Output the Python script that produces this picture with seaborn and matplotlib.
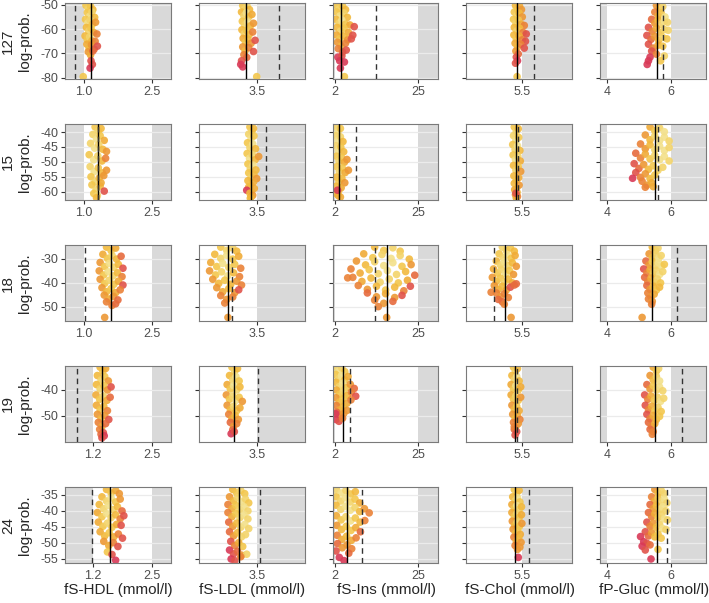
import pandas as pd
import seaborn as sns
import matplotlib
matplotlib.use("Agg")
import matplotlib.pyplot as plt
from matplotlib.colors import LinearSegmentedColormap

# rows = model id, columns = lab measure
rows = ["127", "15", "18", "19", "24"]
cols = ["hdl", "ldl", "ins", "chol", "gluc"]
col_titles = ["fS-HDL (mmol/l)", "fS-LDL (mmol/l)", "fS-Ins (mmol/l)",
              "fS-Chol (mmol/l)", "fP-Gluc (mmol/l)"]

# reference ranges (None = no bound), one value per row
hdl_low = [1.0, 1.0, 1.0, 1.2, 1.2]
hdl_high = [2.5, 2.5, 2.5, 2.5, 2.5]
ldl_low = [None, None, None, None, None]
ldl_high = [3.5, 3.5, 3.5, 3.5, 3.5]
ins_low = [2, 2, 2, 2, 2]
ins_high = [25, 25, 25, 25, 25]
chol_low = [None, None, None, None, None]
chol_high = [5.5, 5.5, 5.5, 5.5, 5.5]
gluc_low = [4, 4, 4, 4, 4]
gluc_high = [6, 6, 6, 6, 6]

# solid / dashed vertical markers, one per row
hdl_solid = [1.17, 1.31, 1.59, 1.41, 1.57]
hdl_dashed = [0.80, 1.31, 1.02, 0.85, 1.19]
ldl_solid = [3.22, 3.35, 2.77, 2.93, 3.05]
ldl_dashed = [4.05, 3.73, 2.88, 3.53, 3.59]
ins_solid = [3.85, 3.1, 16.3, 4.2, 5.4]
ins_dashed = [13.4, 7.8, 13.1, 6.2, 9.6]
chol_solid = [5.37, 5.34, 5.07, 5.32, 5.33]
chol_dashed = [5.8, 5.4, 4.78, 5.37, 5.67]
gluc_solid = [5.56, 5.49, 5.42, 5.49, 5.58]
gluc_dashed = [5.75, 5.59, 6.19, 6.35, 5.88]

# ---- row 127 ----
hdl_127_x = [1.05,1.10,1.15,1.20,1.08,1.13,1.18,1.24,1.04,1.09,1.14,1.19,1.26,1.06,1.11,1.16,1.22,1.29,1.03,1.08,1.13,1.18,1.25,1.07,1.12,1.17,1.23,1.30,1.10,1.15,1.20,1.16,1.19,1.14,0.99]
hdl_127_y = [-50.3,-51.8,-50.6,-52.0,-53.2,-54.8,-53.0,-55.2,-56.0,-57.6,-56.3,-58.0,-57.2,-59.3,-60.9,-59.6,-61.4,-62.0,-62.8,-64.4,-63.1,-64.8,-65.0,-66.2,-67.8,-66.5,-68.2,-67.0,-69.3,-70.6,-69.0,-73,-74.5,-76,-79.5]
hdl_127_c = [2,1,2,3,2,0,1,3,2,0,1,2,5,3,1,2,4,6,3,2,1,3,6,4,3,5,7,8,5,4,7,8,8,9,2]
ldl_127_x = [3.15,3.2,3.26,3.32,3.12,3.18,3.24,3.3,3.38,3.14,3.2,3.27,3.34,3.42,3.13,3.19,3.25,3.31,3.4,3.16,3.22,3.28,3.36,3.46,3.15,3.21,3.3,3.42,3.18,3.25,3.12,3.1,3.15,3.5]
ldl_127_y = [-50.3,-51.8,-50.6,-52.0,-53.0,-54.6,-53.3,-55.0,-54.0,-56.8,-58.3,-57.1,-58.7,-57.6,-60.3,-61.9,-60.6,-62.3,-61.2,-63.8,-65.4,-64.1,-65.8,-64.6,-67.3,-68.9,-67.6,-69.2,-70.5,-71.6,-73,-74.5,-75.5,-79.5]
ldl_127_c = [2,1,1,3,3,1,0,2,4,2,1,0,3,5,3,1,2,3,6,4,2,3,5,8,5,3,6,8,6,7,8,9,9,2]
ins_127_x = [2.5,3.3,4.2,5.0,2.6,3.5,4.5,5.5,2.4,3.2,4.0,5.0,6.2,2.7,3.6,4.6,5.8,7.4,2.5,3.4,4.4,5.6,7.0,2.8,3.8,5.0,6.6,3.0,4.2,5.2,2.9,4.0,3.4,4.7,4.7,3.6]
ins_127_y = [-50.3,-51.8,-50.6,-52.0,-53.0,-54.6,-53.4,-55.2,-56.0,-57.6,-56.3,-58.0,-58.3,-59.3,-60.9,-59.6,-61.4,-59.0,-62.4,-64.0,-62.8,-64.4,-62.5,-65.4,-67.0,-65.8,-64.0,-68.0,-69.4,-68.6,-71.5,-71,-73,-73.5,-79.5,-76]
ins_127_c = [2,1,2,3,2,0,1,3,3,1,0,2,4,3,1,2,4,8,4,2,3,5,8,5,3,6,8,6,7,8,9,8,9,9,2,9]
chol_127_x = [5.33,5.38,5.43,5.48,5.3,5.36,5.42,5.5,5.28,5.34,5.4,5.47,5.55,5.3,5.36,5.43,5.52,5.6,5.29,5.35,5.42,5.5,5.58,5.32,5.38,5.46,5.55,5.34,5.4,5.35,5.38,5.37,5.33]
chol_127_y = [-50.3,-51.8,-50.6,-52.0,-53.0,-54.6,-53.4,-55.0,-56.0,-57.6,-56.3,-58.0,-58.5,-59.3,-60.9,-59.6,-61.4,-62.0,-62.4,-64.0,-62.8,-64.4,-65.0,-65.8,-67.4,-66.2,-67.8,-69.0,-70.2,-71.5,-73,-79.5,-74]
chol_127_c = [3,2,4,5,2,1,3,5,2,1,2,4,6,3,1,3,6,8,3,2,4,6,8,4,3,6,8,5,7,8,9,2,8]
gluc_127_x = [5.55,5.65,5.75,5.5,5.6,5.7,5.82,5.4,5.5,5.6,5.7,5.8,5.9,5.3,5.42,5.55,5.68,5.8,5.92,5.25,5.38,5.5,5.62,5.75,5.88,5.3,5.45,5.6,5.75,5.4,5.55,5.35,5.3,5.26,5.8,5.68]
gluc_127_y = [-50.3,-51.6,-50.8,-53.0,-54.6,-53.4,-55.0,-56.0,-57.6,-56.3,-58.0,-56.8,-57.2,-59.3,-60.9,-59.6,-61.4,-60.2,-60.5,-62.6,-64.2,-63.0,-64.6,-63.4,-64.0,-66.2,-67.8,-66.6,-67.0,-69.0,-70.3,-71.5,-73,-74.5,-71,-73]
gluc_127_c = [5,3,1,6,4,2,0,7,5,3,1,0,1,8,6,4,2,1,1,8,7,5,3,1,2,8,6,4,2,8,6,9,9,9,1,2]

# ---- row 15 ----
hdl_15_x = [1.25,1.32,1.38,1.2,1.28,1.36,1.45,1.15,1.24,1.33,1.42,1.5,1.12,1.22,1.31,1.4,1.48,1.14,1.23,1.32,1.41,1.5,1.16,1.25,1.34,1.44,1.18,1.27,1.36,1.45,1.22,1.3,1.38,1.28]
hdl_15_y = [-38.3,-39.6,-38.8,-40.8,-42.4,-41.2,-42.8,-43.8,-45.4,-44.2,-45.8,-46.5,-47.6,-49.3,-48.0,-49.7,-48.8,-51.6,-53.3,-52.0,-53.7,-52.8,-55.0,-56.7,-55.4,-54.6,-57.7,-59.4,-58.1,-59.8,-60.6,-61.2,-57.0,-62.0]
hdl_15_c = [2,1,3,1,0,2,4,1,0,1,3,5,2,0,1,3,6,1,0,2,3,5,2,1,3,5,2,1,3,8,2,1,4,3]
ldl_15_x = [3.33,3.38,3.42,3.3,3.36,3.43,3.27,3.33,3.4,3.47,3.26,3.32,3.39,3.46,3.55,3.28,3.34,3.41,3.48,3.3,3.36,3.43,3.5,3.28,3.35,3.42,3.3,3.37,3.44,3.25,3.33,3.4,3.36,3.34]
ldl_15_y = [-38.3,-39.6,-38.8,-40.7,-42.2,-41.3,-43.6,-45.2,-44.0,-45.6,-47.2,-48.8,-47.6,-49.3,-48.2,-50.7,-52.3,-51.1,-52.7,-53.7,-55.3,-54.1,-55.6,-56.3,-57.8,-56.8,-58.4,-59.8,-58.9,-59.5,-60.5,-61.2,-61.7,-62.2]
ldl_15_c = [2,1,3,1,0,2,2,1,0,3,2,0,1,3,5,2,1,0,3,2,1,3,5,3,2,4,3,2,4,9,3,5,4,3]
ins_15_x = [2.4,3.0,3.6,2.3,2.9,3.6,4.3,2.4,3.0,3.7,4.5,2.5,3.2,3.9,4.7,5.4,2.6,3.3,4.1,4.9,5.8,2.5,3.2,4.0,4.8,2.4,3.1,3.8,2.5,3.0,3.6,2.8]
ins_15_y = [-38.3,-39.7,-38.8,-41.2,-42.8,-41.6,-43.2,-44.6,-46.2,-45.0,-46.6,-48.1,-49.7,-48.5,-50.1,-49.2,-51.6,-53.2,-52.0,-53.6,-52.8,-55.1,-56.7,-55.5,-57.0,-58.2,-59.8,-58.7,-60.6,-61.3,-61.8,-59.5]
ins_15_c = [1,0,2,1,0,1,3,1,0,2,3,2,1,2,4,5,2,1,2,4,5,3,2,3,5,3,2,4,3,4,4,9]
chol_15_x = [5.3,5.35,5.4,5.28,5.34,5.41,5.26,5.32,5.38,5.44,5.27,5.33,5.39,5.45,5.28,5.34,5.4,5.46,5.29,5.35,5.41,5.3,5.36,5.42,5.31,5.37,5.33,5.38,5.35,5.34]
chol_15_y = [-38.3,-39.8,-38.9,-41.2,-42.8,-41.8,-44.2,-45.8,-44.6,-46.2,-47.7,-49.3,-48.1,-49.7,-51.2,-52.8,-51.6,-53.2,-54.7,-56.2,-55.3,-57.2,-58.7,-57.8,-59.3,-60.2,-61.0,-61.6,-62.1,-60.5]
chol_15_c = [2,1,3,1,0,2,2,1,0,3,2,0,1,4,3,1,2,5,3,2,4,3,2,5,4,3,5,6,4,8]
gluc_15_x = [5.35,5.5,5.65,5.8,5.2,5.35,5.5,5.65,5.8,5.95,5.05,5.2,5.35,5.5,5.65,5.8,5.95,4.9,5.05,5.2,5.35,5.5,5.65,5.8,5.95,4.85,5.0,5.15,5.3,5.45,5.6,5.75,4.9,5.05,5.2,5.35,5.5,5.1,5.25,5.4,4.8,5.2,5.45]
gluc_15_y = [-38.3,-39.6,-38.6,-39.9,-41.0,-42.6,-41.3,-42.9,-41.7,-43.0,-44.0,-45.6,-44.3,-45.9,-44.7,-46.2,-45.2,-47.1,-48.7,-47.4,-49.0,-47.8,-49.3,-48.2,-49.7,-50.6,-52.2,-50.9,-52.5,-51.3,-52.8,-51.8,-53.6,-55.2,-54.0,-55.6,-54.4,-56.5,-57.8,-57.0,-55.5,-58.5,-58.3]
gluc_15_c = [4,2,1,0,5,3,1,0,0,1,6,5,3,1,0,0,1,7,6,4,2,1,0,0,1,8,7,5,3,2,1,1,8,6,5,3,2,6,5,4,9,6,4]

# ---- row 18 ----
hdl_18_x = [1.5,1.6,1.7,1.42,1.52,1.62,1.72,1.82,1.36,1.46,1.56,1.66,1.76,1.86,1.34,1.44,1.54,1.64,1.74,1.84,1.36,1.46,1.56,1.66,1.76,1.86,1.4,1.5,1.6,1.7,1.8,1.45,1.55,1.65,1.75,1.5,1.62,1.46,1.7]
hdl_18_y = [-25.2,-26.6,-25.6,-28.2,-29.9,-28.6,-30.2,-29.0,-31.6,-33.3,-32.0,-33.6,-32.4,-34.0,-35.1,-36.8,-35.5,-37.2,-35.9,-37.5,-38.6,-40.3,-39.0,-40.7,-39.4,-41.0,-42.1,-43.8,-42.5,-44.2,-43.0,-45.2,-46.8,-45.7,-47.2,-48.0,-49.5,-54.5,-48.8]
hdl_18_c = [3,2,4,4,2,1,3,7,5,2,0,1,3,8,5,2,0,1,3,6,5,2,1,2,4,8,5,3,2,4,6,5,4,5,7,6,6,5,7]
ldl_18_x = [2.6,2.75,2.9,3.0,2.45,2.6,2.75,2.9,3.05,2.35,2.5,2.65,2.8,2.95,3.1,2.32,2.47,2.62,2.77,2.92,3.07,2.4,2.55,2.7,2.85,3.0,3.12,2.5,2.65,2.8,2.95,3.05,2.6,2.75,2.9,2.7,2.78]
ldl_18_y = [-25.2,-26.6,-25.5,-26.9,-28.2,-29.9,-28.6,-30.2,-29.0,-31.6,-33.3,-32.0,-33.6,-32.4,-34.0,-35.1,-36.8,-35.5,-37.2,-35.9,-37.5,-38.6,-40.3,-39.0,-40.7,-39.4,-41.0,-42.1,-43.8,-42.5,-44.2,-43.0,-45.4,-47.0,-46.0,-48.5,-54.5]
ldl_18_c = [2,1,1,3,3,1,0,2,4,4,2,0,1,2,6,5,2,1,0,3,6,5,3,2,3,5,6,5,4,3,5,8,6,5,6,6,5]
ins_18_x = [13,15.5,18,20,10,12.5,15,17.5,20,22.5,8,10.5,13,15.5,18,20.5,23,6.5,9,11.5,14,16.5,19,21.5,24,7,9.5,12,14.5,17,19.5,22,8.5,11,13.5,16,18.5,21,11,13.5,16,18.5,20.5,13,15.5,18,5.6,16.3,14,22.8]
ins_18_y = [-25.2,-26.6,-25.5,-26.9,-28.0,-29.6,-28.3,-29.9,-28.7,-30.2,-31.0,-32.6,-31.3,-32.9,-31.7,-33.2,-32.5,-34.3,-36.0,-34.6,-36.3,-35.0,-36.6,-35.4,-36.9,-37.8,-39.5,-38.1,-39.8,-38.5,-40.1,-39.0,-41.2,-42.8,-41.5,-43.1,-41.9,-43.4,-44.3,-45.9,-44.6,-46.2,-45.3,-47.3,-48.6,-47.8,-38,-54.5,-50,-41.5]
ins_18_c = [3,2,1,2,4,2,1,0,1,3,5,3,1,0,0,2,5,6,4,2,1,0,1,3,7,6,4,3,1,1,2,4,6,5,3,2,3,6,7,5,4,5,8,6,5,7,6,5,6,8]
chol_18_x = [5.0,5.1,5.2,5.3,4.92,5.02,5.12,5.22,5.32,4.85,4.95,5.05,5.15,5.25,5.35,4.78,4.88,4.98,5.08,5.18,5.28,4.75,4.85,4.95,5.05,5.15,5.25,5.35,4.8,4.9,5.0,5.1,5.2,5.3,4.85,4.95,5.05,5.15,4.9,5.0,4.72,5.22,5.05]
chol_18_y = [-25.2,-26.6,-25.5,-26.9,-28.0,-29.6,-28.3,-29.9,-28.7,-31.0,-32.6,-31.3,-32.9,-31.7,-33.2,-34.3,-36.0,-34.6,-36.3,-35.0,-36.6,-37.8,-39.5,-38.1,-39.8,-38.5,-40.1,-40.5,-41.2,-42.8,-41.5,-43.1,-41.9,-41.0,-44.3,-45.9,-44.6,-46.2,-47.0,-48.0,-44,-54.5,-49]
chol_18_c = [1,1,2,3,2,1,0,2,4,3,1,0,1,3,5,4,2,1,0,2,5,5,3,2,1,3,4,7,5,4,3,4,8,7,6,5,6,6,7,7,6,5,6]
gluc_18_x = [5.42,5.52,5.6,5.32,5.42,5.52,5.62,5.7,5.22,5.32,5.42,5.52,5.62,5.72,5.8,5.15,5.25,5.35,5.45,5.55,5.65,5.75,5.18,5.28,5.38,5.48,5.58,5.68,5.25,5.35,5.45,5.55,5.65,5.28,5.38,5.48,5.3,5.42,5.1,5.4]
gluc_18_y = [-25.2,-26.6,-25.6,-28.0,-29.6,-28.3,-29.9,-28.7,-31.0,-32.6,-31.3,-32.9,-31.7,-33.2,-32.4,-34.3,-36.0,-34.6,-36.3,-35.0,-36.6,-35.4,-37.8,-39.5,-38.1,-39.8,-38.5,-40.1,-41.2,-42.8,-41.5,-43.1,-41.9,-44.3,-45.9,-44.8,-46.8,-47.8,-54.5,-49]
gluc_18_c = [3,2,1,5,3,1,0,1,7,5,2,1,0,0,2,8,6,4,2,1,0,1,7,6,4,2,1,2,7,5,3,2,3,6,5,4,6,5,5,6]

# ---- row 19 ----
hdl_19_x = [1.36,1.42,1.48,1.3,1.38,1.46,1.54,1.28,1.36,1.44,1.52,1.6,1.27,1.35,1.43,1.51,1.58,1.28,1.36,1.44,1.52,1.3,1.38,1.46,1.55,1.32,1.4,1.48,1.35,1.43,1.38,1.45,1.4]
hdl_19_y = [-31.3,-32.8,-31.8,-34.5,-36.2,-34.9,-36.6,-38.0,-39.7,-38.4,-40.1,-38.9,-42.0,-43.7,-42.4,-44.1,-42.9,-46.0,-47.7,-46.4,-48.1,-49.5,-51.2,-49.9,-51.5,-52.6,-54.2,-53.1,-55.3,-56.6,-57.2,-57.8,-58.6]
hdl_19_c = [3,2,4,3,1,2,5,3,1,2,5,8,4,2,1,4,7,4,2,3,6,5,3,5,8,6,4,7,6,8,7,9,8]
ldl_19_x = [2.88,2.95,3.02,2.82,2.9,2.98,3.06,2.76,2.84,2.92,3.0,3.08,2.74,2.82,2.9,2.98,3.06,3.14,2.76,2.84,2.92,3.0,3.08,2.8,2.88,2.96,3.04,2.84,2.92,3.0,2.9,2.86,2.94]
ldl_19_y = [-31.3,-32.8,-31.8,-34.5,-36.2,-34.9,-36.6,-38.0,-39.7,-38.4,-40.1,-38.9,-42.0,-43.7,-42.4,-44.1,-42.9,-44.5,-46.0,-47.7,-46.4,-48.1,-47.0,-49.5,-51.2,-49.9,-51.5,-52.6,-54.2,-53.1,-55.5,-57.0,-56.2]
ldl_19_c = [2,1,3,3,1,0,2,4,2,0,1,3,5,2,1,0,2,5,5,3,1,2,4,6,4,3,5,7,5,6,7,9,8]
ins_19_x = [2.4,3.2,4.0,4.8,2.3,3.1,3.9,4.8,5.7,2.4,3.3,4.2,5.2,6.3,7.4,2.5,3.4,4.4,5.5,6.6,7.8,2.4,3.3,4.3,5.4,6.5,2.5,3.4,4.4,5.4,2.6,3.5,4.5,2.4,3.2,4.2,2.3]
ins_19_y = [-31.3,-32.8,-31.6,-33.0,-34.1,-35.8,-34.5,-36.2,-34.9,-37.1,-38.8,-37.5,-39.2,-37.9,-39.5,-40.1,-41.8,-40.5,-42.2,-40.9,-42.5,-43.1,-44.8,-43.5,-45.2,-43.9,-46.1,-47.8,-46.5,-48.0,-48.7,-50.2,-49.2,-51.5,-52.2,-51.0,-49.3]
ins_19_c = [1,0,1,2,2,1,0,2,4,3,1,0,2,5,7,4,2,1,3,6,8,5,3,2,4,6,6,4,3,5,7,6,5,9,8,6,9]
chol_19_x = [5.28,5.33,5.38,5.24,5.3,5.36,5.42,5.22,5.28,5.34,5.4,5.46,5.22,5.28,5.34,5.4,5.46,5.24,5.3,5.36,5.42,5.26,5.32,5.38,5.44,5.28,5.34,5.4,5.3,5.36,5.32,5.3]
chol_19_y = [-31.3,-32.8,-31.8,-34.5,-36.2,-34.9,-36.6,-38.0,-39.7,-38.4,-40.1,-38.9,-42.0,-43.7,-42.4,-44.1,-42.9,-46.0,-47.7,-46.4,-48.1,-49.5,-51.2,-49.9,-51.5,-52.6,-54.2,-53.1,-55.3,-56.2,-57.5,-54.3]
chol_19_c = [2,1,3,3,1,0,3,4,2,0,2,4,4,2,1,2,5,5,3,2,4,5,3,4,6,6,4,5,7,8,8,6]
gluc_19_x = [5.45,5.55,5.62,5.35,5.45,5.55,5.65,5.25,5.35,5.45,5.55,5.65,5.75,5.18,5.28,5.38,5.48,5.58,5.68,5.78,5.2,5.3,5.4,5.5,5.6,5.7,5.25,5.35,5.45,5.55,5.65,5.3,5.4,5.5,5.35,5.45,5.42]
gluc_19_y = [-31.3,-32.8,-31.8,-34.5,-36.2,-34.9,-36.6,-38.0,-39.7,-38.4,-40.1,-38.9,-40.4,-42.0,-43.7,-42.4,-44.1,-42.9,-44.5,-43.3,-46.0,-47.7,-46.4,-48.1,-46.8,-48.4,-49.5,-51.2,-49.9,-51.5,-50.3,-52.6,-54.2,-53.1,-55.3,-56.2,-57.2]
gluc_19_c = [4,2,1,5,3,1,0,7,5,2,1,0,1,8,6,4,2,1,0,1,8,6,4,2,1,2,8,6,4,3,2,7,6,4,7,6,6]

# ---- row 24 ----
hdl_24_x = [1.5,1.6,1.7,1.78,1.4,1.5,1.6,1.7,1.8,1.34,1.44,1.54,1.64,1.74,1.84,1.3,1.4,1.5,1.6,1.7,1.8,1.88,1.32,1.42,1.52,1.62,1.72,1.82,1.36,1.46,1.56,1.66,1.76,1.85,1.44,1.55,1.65,1.75,1.52,1.62,1.7]
hdl_24_y = [-33.3,-34.4,-33.6,-34.6,-35.6,-36.9,-35.9,-37.2,-36.3,-38.0,-39.3,-38.3,-39.6,-38.7,-40.0,-40.5,-41.8,-40.8,-42.1,-41.2,-42.5,-41.5,-43.5,-44.8,-43.8,-45.1,-44.2,-44.5,-46.5,-47.8,-46.8,-48.1,-47.2,-48.5,-49.5,-50.8,-49.9,-51.1,-52.8,-53.6,-55.4]
hdl_24_c = [3,2,4,5,3,1,0,2,5,3,1,0,1,3,7,4,2,0,1,3,6,8,4,2,1,2,4,8,4,3,2,4,6,8,5,4,6,8,2,8,9]
ldl_24_x = [2.9,3.0,3.1,3.2,2.82,2.92,3.02,3.12,3.22,3.3,2.78,2.88,2.98,3.08,3.18,3.28,2.78,2.88,2.98,3.08,3.18,3.28,2.8,2.9,3.0,3.1,3.2,3.3,2.82,2.92,3.02,3.12,3.22,2.85,2.95,3.05,3.15,2.82,2.92,3.02,3.12,3.25,2.86,2.95,3.1]
ldl_24_y = [-33.3,-34.4,-33.6,-34.6,-35.6,-36.9,-35.9,-37.2,-36.3,-37.5,-38.0,-39.3,-38.3,-39.6,-38.7,-40.0,-40.5,-41.8,-40.8,-42.1,-41.2,-42.5,-43.5,-44.8,-43.8,-45.1,-44.2,-45.5,-46.5,-47.8,-46.8,-48.1,-47.4,-49.5,-50.8,-49.9,-51.1,-52.2,-53.4,-52.6,-53.8,-53.5,-55.0,-55.5,-54.3]
ldl_24_c = [3,2,1,2,5,3,1,0,1,2,6,4,2,1,0,1,6,4,2,1,0,1,7,5,3,1,0,1,7,5,3,1,1,8,6,4,2,9,8,7,5,1,9,8,6]
ins_24_x = [2.5,3.8,5.1,6.4,7.7,2.4,3.7,5.0,6.3,7.6,8.9,2.4,3.7,5.0,6.3,7.6,8.9,10.2,11.5,2.5,3.8,5.1,6.4,7.7,9.0,10.3,2.6,3.9,5.2,6.5,7.8,9.1,2.7,4.0,5.3,6.6,7.9,2.8,4.1,5.4,6.7,2.4,3.3,4.6,5.9]
ins_24_y = [-33.3,-34.4,-33.6,-34.7,-34.0,-35.6,-36.9,-35.9,-37.2,-36.3,-37.5,-38.2,-39.5,-38.5,-39.8,-38.9,-40.2,-39.3,-40.6,-41.5,-42.8,-41.8,-43.1,-42.2,-43.5,-43.0,-44.5,-45.8,-44.8,-46.1,-45.2,-46.5,-47.6,-48.9,-47.9,-49.2,-48.4,-50.2,-51.5,-50.6,-51.8,-52.5,-54.5,-55.5,-53.2]
ins_24_c = [1,0,1,2,3,2,1,0,1,2,4,3,1,0,0,1,3,5,6,4,2,1,0,2,3,6,5,3,2,2,4,7,6,4,3,4,6,7,5,5,6,8,9,9,7]
chol_24_x = [5.3,5.36,5.42,5.26,5.32,5.38,5.44,5.24,5.3,5.36,5.42,5.48,5.24,5.3,5.36,5.42,5.48,5.25,5.31,5.37,5.43,5.49,5.27,5.33,5.39,5.45,5.29,5.35,5.41,5.47,5.32,5.38,5.44,5.4]
chol_24_y = [-33.3,-34.4,-33.6,-35.6,-36.9,-35.9,-37.2,-38.0,-39.3,-38.3,-39.6,-38.7,-40.5,-41.8,-40.8,-42.1,-41.2,-43.2,-44.5,-43.5,-44.8,-43.9,-45.7,-47.0,-46.0,-47.3,-48.2,-49.5,-48.5,-49.8,-50.8,-52.0,-51.3,-54.5]
chol_24_c = [2,1,3,3,1,0,2,4,2,0,1,3,4,2,1,2,4,5,3,1,2,5,5,3,2,4,6,4,3,5,6,5,5,9]
gluc_24_x = [5.5,5.6,5.7,5.8,5.4,5.5,5.6,5.7,5.8,5.88,5.35,5.45,5.55,5.65,5.75,5.85,5.3,5.4,5.5,5.6,5.7,5.8,5.9,5.25,5.35,5.45,5.55,5.65,5.75,5.85,5.2,5.3,5.4,5.5,5.6,5.7,5.05,5.15,5.25,5.35,5.1,5.2,5.38,5.6]
gluc_24_y = [-33.3,-34.4,-33.6,-34.6,-35.6,-36.9,-35.9,-37.2,-36.3,-37.5,-38.0,-39.3,-38.3,-39.6,-38.7,-40.0,-40.5,-41.8,-40.8,-42.1,-41.2,-42.5,-42.8,-43.5,-44.8,-43.8,-45.1,-44.2,-45.5,-45.8,-46.5,-47.8,-46.8,-48.1,-47.2,-48.5,-48.0,-49.6,-50.1,-50.6,-51.0,-52.2,-55.0,-52.0]
gluc_24_c = [5,3,1,1,6,4,2,1,0,1,7,5,3,1,0,1,7,6,4,2,1,0,1,8,6,5,3,1,0,1,8,7,5,3,2,2,9,9,8,7,9,8,9,2]

# axis settings
xlims = [(0.59, 2.91), (2.05, 4.7), (1.45, 30.5), (4.1, 6.75), (3.78, 7.11)]
xfmt = ["{:.1f}", "{:.1f}", "{:g}", "{:.1f}", "{:g}"]
ylims = [(-80.5, -49.3), (-62.8, -37.3), (-56, -24.3), (-60.2, -30.8), (-56.25, -32.5)]
yticks = [[-50, -60, -70, -80], [-40, -45, -50, -55, -60], [-30, -40, -50],
          [-40, -50], [-35, -40, -45, -50, -55]]

sns.set_style("white")
plt.rcParams["font.family"] = ["Liberation Sans", "DejaVu Sans"]

cmap = LinearSegmentedColormap.from_list(
    "ylorrd", ["#f3e08a", "#f3c444", "#efa333", "#e8723a", "#d93a57"])

W, H = 709, 603
fig, axes = plt.subplots(5, 5, figsize=(W / 100, H / 100), dpi=100)
fig.subplots_adjust(left=65 / W, right=706 / W, top=1 - 3 / H, bottom=1 - 563 / H,
                    wspace=0.264, hspace=0.59)

g = globals()
for i, r in enumerate(rows):
    for j, c in enumerate(cols):
        ax = axes[i, j]
        df = pd.DataFrame({"x": g[f"{c}_{r}_x"], "y": g[f"{c}_{r}_y"],
                           "c": g[f"{c}_{r}_c"]})
        lo, hi = g[f"{c}_low"][i], g[f"{c}_high"][i]
        x0, x1 = xlims[j]

        # shaded = outside the reference range
        if lo is not None:
            ax.axvspan(x0, lo, color="#d9d9d9", lw=0, zorder=0)
        if hi is not None:
            ax.axvspan(hi, x1, color="#d9d9d9", lw=0, zorder=0)
        for t in yticks[i]:
            ax.axhline(t, color="#ebebeb", lw=0.9, zorder=0.5)

        sns.scatterplot(data=df, x="x", y="y", hue="c", palette=cmap,
                        hue_norm=(0, 9), s=30, linewidth=0, alpha=0.9,
                        legend=False, ax=ax, zorder=2)
        ax.axvline(g[f"{c}_solid"][i], color="black", lw=1.0, zorder=3)
        ax.axvline(g[f"{c}_dashed"][i], color="#333333", lw=1.0,
                   ls=(0, (4, 3)), zorder=3)

        ax.set_xlim(x0, x1)
        ax.set_ylim(*ylims[i])
        ax.set_yticks(yticks[i])
        ax.set_yticklabels([f"{v:g}" for v in yticks[i]] if j == 0 else [])
        xt = [v for v in (lo, hi) if v is not None]
        ax.set_xticks(xt)
        ax.set_xticklabels([xfmt[j].format(v) for v in xt])
        ax.set_xlabel("")
        ax.set_ylabel("")
        for sp in ax.spines.values():
            sp.set_color("#7a7a7a")
            sp.set_linewidth(0.8)
        ax.tick_params(length=3, width=0.8, color="#333333", labelsize=9,
                       labelcolor="#4d4d4d", pad=2, left=True, bottom=True)

# row labels and y label
for i, r in enumerate(rows):
    yc = 1 - (3 + i * 121 + 38) / H
    fig.text(8 / W, yc, r, rotation=90, ha="center", va="center", fontsize=11)
    fig.text(25 / W, yc, "log-prob.", rotation=90, ha="center", va="center",
             fontsize=11)

# column titles under the bottom row
for j, t in enumerate(col_titles):
    xc = (65 + j * 134.1 + 53) / W
    fig.text(xc, 1 - 583 / H, t, ha="center", va="top", fontsize=11)

fig.savefig("out.png", dpi=100)
